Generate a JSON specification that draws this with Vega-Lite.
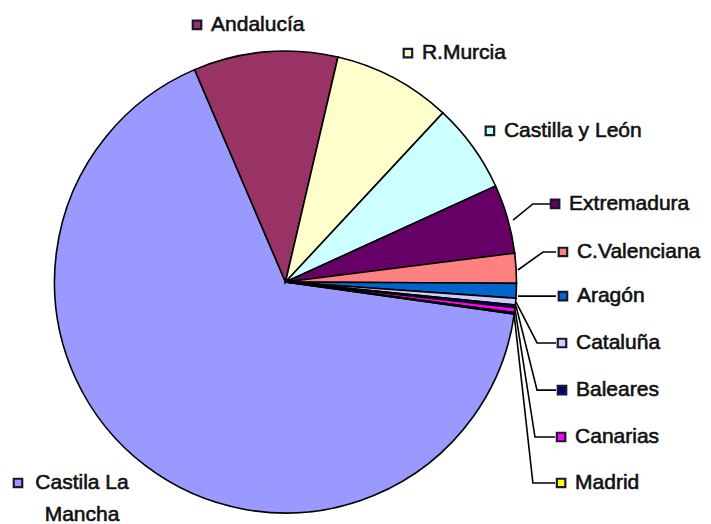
{
  "$schema": "https://vega.github.io/schema/vega-lite/v6.json",
  "width": 711,
  "height": 524,
  "padding": 0,
  "autosize": {"type": "none"},
  "background": "white",
  "config": {"view": {"stroke": null}, "font": "Liberation Sans"},
  "datasets": {
    "pie": [
      {"k": 1, "region": "Castilla La Mancha", "pct": 66.33},
      {"k": 2, "region": "Andalucía", "pct": 10.08},
      {"k": 3, "region": "R.Murcia", "pct": 8.28},
      {"k": 4, "region": "Castilla y León", "pct": 6.25},
      {"k": 5, "region": "Extremadura", "pct": 4.83},
      {"k": 6, "region": "C.Valenciana", "pct": 2.08},
      {"k": 7, "region": "Aragón", "pct": 1.03},
      {"k": 8, "region": "Cataluña", "pct": 0.47},
      {"k": 9, "region": "Baleares", "pct": 0.19},
      {"k": 10, "region": "Canarias", "pct": 0.33},
      {"k": 11, "region": "Madrid", "pct": 0.11}
    ],
    "labels": [
      {"region": "Castilla La Mancha", "label": "Castila La\nMancha", "u": -1.158, "v": -0.87},
      {"region": "Andalucía", "label": "Andalucía", "u": -0.383, "v": 1.113},
      {"region": "R.Murcia", "label": "R.Murcia", "u": 0.53, "v": 0.991},
      {"region": "Castilla y León", "label": "Castilla y León", "u": 0.885, "v": 0.654},
      {"region": "Extremadura", "label": "Extremadura", "u": 1.167, "v": 0.338},
      {"region": "C.Valenciana", "label": "C.Valenciana", "u": 1.201, "v": 0.13},
      {"region": "Aragón", "label": "Aragón", "u": 1.201, "v": -0.061},
      {"region": "Cataluña", "label": "Cataluña", "u": 1.197, "v": -0.264},
      {"region": "Baleares", "label": "Baleares", "u": 1.197, "v": -0.468},
      {"region": "Canarias", "label": "Canarias", "u": 1.193, "v": -0.671},
      {"region": "Madrid", "label": "Madrid", "u": 1.193, "v": -0.87}
    ],
    "leaders": [
      {"region": "Extremadura", "s": 0, "u": 0.985, "v": 0.268},
      {"region": "Extremadura", "s": 1, "u": 1.071, "v": 0.338},
      {"region": "Extremadura", "s": 2, "u": 1.145, "v": 0.338},
      {"region": "C.Valenciana", "s": 0, "u": 1.006, "v": 0.052},
      {"region": "C.Valenciana", "s": 1, "u": 1.115, "v": 0.13},
      {"region": "C.Valenciana", "s": 2, "u": 1.171, "v": 0.13},
      {"region": "Aragón", "s": 0, "u": 1.006, "v": -0.061},
      {"region": "Aragón", "s": 1, "u": 1.171, "v": -0.061},
      {"region": "Cataluña", "s": 0, "u": 0.998, "v": -0.087},
      {"region": "Cataluña", "s": 1, "u": 1.089, "v": -0.264},
      {"region": "Cataluña", "s": 2, "u": 1.171, "v": -0.264},
      {"region": "Baleares", "s": 0, "u": 0.998, "v": -0.104},
      {"region": "Baleares", "s": 1, "u": 1.089, "v": -0.468},
      {"region": "Baleares", "s": 2, "u": 1.171, "v": -0.468},
      {"region": "Canarias", "s": 0, "u": 0.994, "v": -0.121},
      {"region": "Canarias", "s": 1, "u": 1.08, "v": -0.671},
      {"region": "Canarias", "s": 2, "u": 1.167, "v": -0.671},
      {"region": "Madrid", "s": 0, "u": 0.989, "v": -0.134},
      {"region": "Madrid", "s": 1, "u": 1.071, "v": -0.87},
      {"region": "Madrid", "s": 2, "u": 1.167, "v": -0.87}
    ]
  },
  "layer": [
    {
      "data": {"name": "pie"},
      "mark": {"type": "arc", "outerRadius": 231, "stroke": "#000000", "strokeWidth": 1.6},
      "encoding": {
        "x": {"datum": 0, "type": "quantitative", "scale": {"domain": [-1.2359, 1.842], "nice": false, "zero": false}, "axis": null},
        "y": {"datum": 0, "type": "quantitative", "scale": {"domain": [-1.0476, 1.2208], "nice": false, "zero": false}, "axis": null},
        "theta": {"field": "pct", "type": "quantitative", "stack": true, "scale": {"range": [1.7104, 7.9936]}},
        "order": {"field": "k", "type": "quantitative"},
        "color": {
          "field": "region", "type": "nominal", "legend": null,
          "scale": {
            "domain": ["Castilla La Mancha", "Andalucía", "R.Murcia", "Castilla y León", "Extremadura", "C.Valenciana", "Aragón", "Cataluña", "Baleares", "Canarias", "Madrid"],
            "range": ["#9999FF", "#993366", "#FFFFCC", "#CCFFFF", "#660066", "#FF8080", "#0066CC", "#CCCCFF", "#000080", "#FF00FF", "#FFFF00"]
          }
        }
      }
    },
    {
      "data": {"name": "leaders"},
      "mark": {"type": "line", "color": "#000000", "strokeWidth": 1.6},
      "encoding": {
        "x": {"field": "u", "type": "quantitative"},
        "y": {"field": "v", "type": "quantitative"},
        "detail": {"field": "region"},
        "order": {"field": "s", "type": "quantitative"}
      }
    },
    {
      "data": {"name": "labels"},
      "mark": {"type": "point", "shape": "square", "filled": true, "size": 72, "stroke": "#1a1a2e", "strokeWidth": 2.2, "opacity": 1},
      "encoding": {
        "x": {"field": "u", "type": "quantitative"},
        "y": {"field": "v", "type": "quantitative"},
        "color": {"field": "region", "type": "nominal"}
      }
    },
    {
      "data": {"name": "labels"},
      "transform": [{"filter": "datum.region !== 'Castilla La Mancha'"}],
      "mark": {"type": "text", "align": "left", "baseline": "middle", "dx": 14, "fontSize": 21, "fill": "#111111", "stroke": "#111111", "strokeWidth": 0.6, "font": "Liberation Sans"},
      "encoding": {
        "x": {"field": "u", "type": "quantitative"},
        "y": {"field": "v", "type": "quantitative"},
        "text": {"field": "label"}
      }
    },
    {
      "data": {"name": "labels"},
      "transform": [{"filter": "datum.region === 'Castilla La Mancha'"}],
      "mark": {"type": "text", "align": "center", "baseline": "top", "dx": 64, "dy": -11, "lineBreak": "\n", "lineHeight": 32, "fontSize": 21, "fill": "#111111", "stroke": "#111111", "strokeWidth": 0.6, "font": "Liberation Sans"},
      "encoding": {
        "x": {"field": "u", "type": "quantitative"},
        "y": {"field": "v", "type": "quantitative"},
        "text": {"field": "label"}
      }
    }
  ]
}
